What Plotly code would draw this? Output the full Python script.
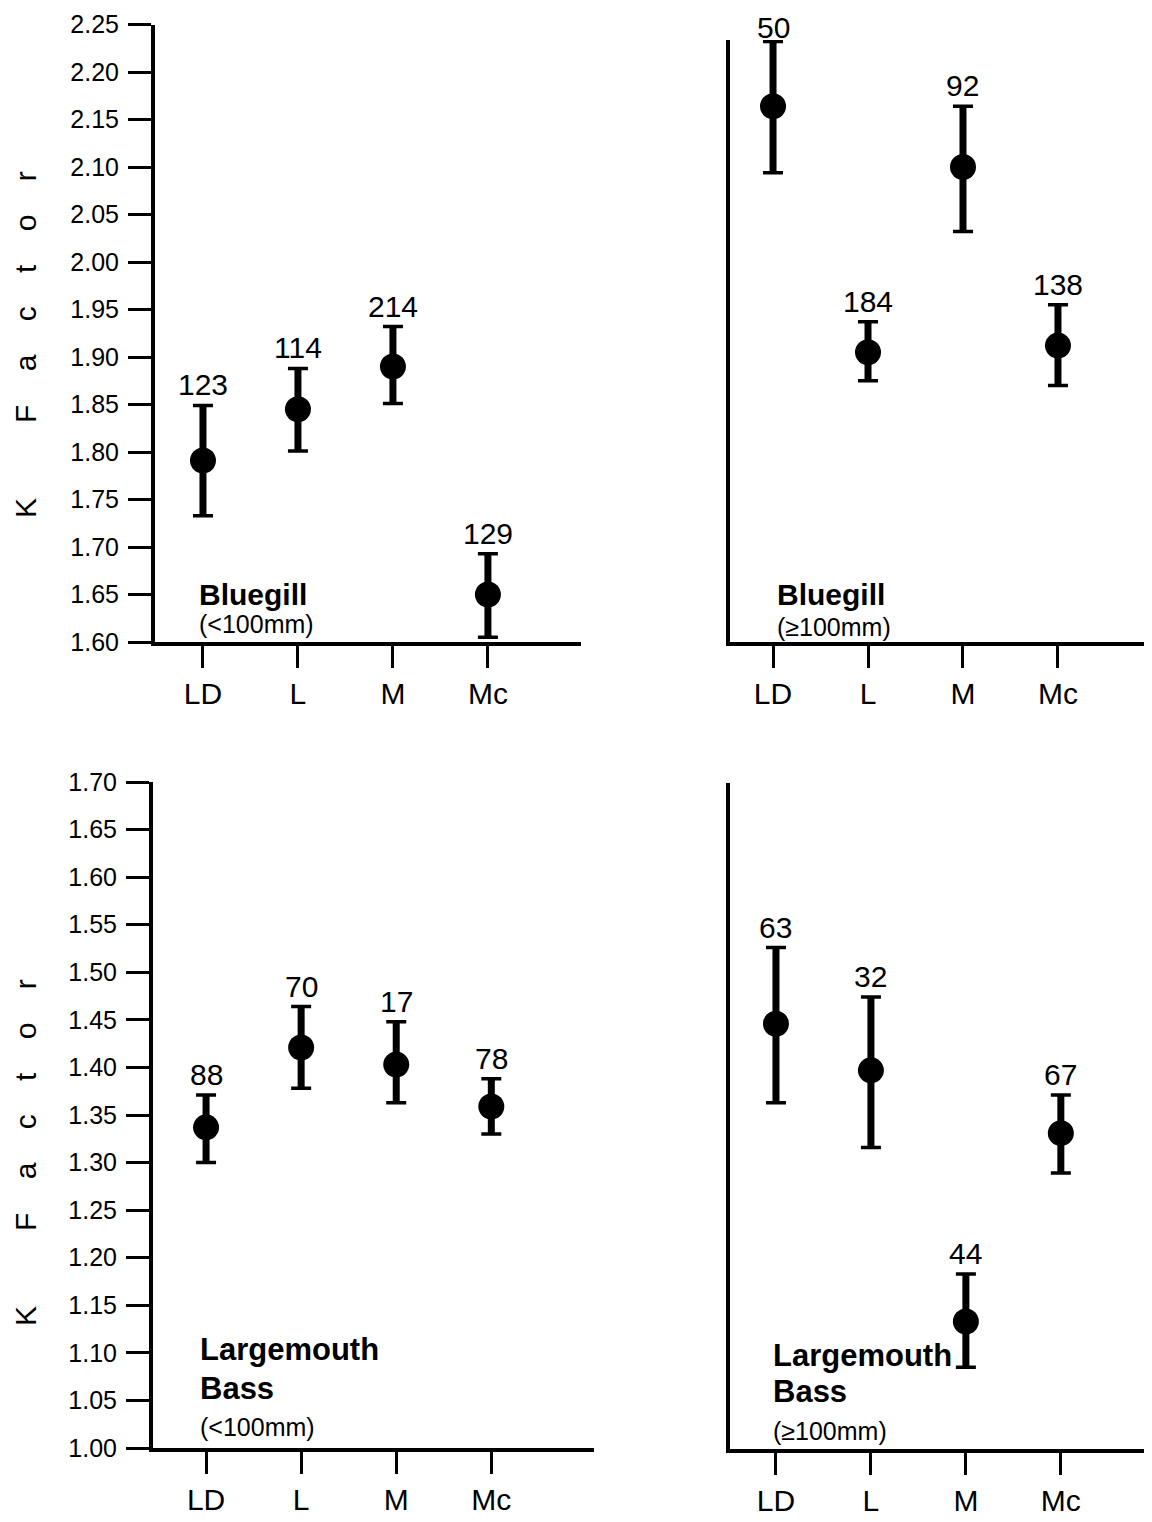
import plotly.graph_objects as go

# ---------------- data ----------------
categories = ["LD", "L", "M", "Mc"]

bg_small_mean = [1.791, 1.845, 1.890, 1.650]
bg_small_upper = [1.849, 1.888, 1.932, 1.693]
bg_small_lower = [1.733, 1.801, 1.851, 1.605]
bg_small_n = [123, 114, 214, 129]

bg_large_mean = [2.164, 1.905, 2.100, 1.912]
bg_large_upper = [2.232, 1.937, 2.164, 1.955]
bg_large_lower = [2.094, 1.875, 2.032, 1.870]
bg_large_n = [50, 184, 92, 138]

lmb_small_mean = [1.337, 1.421, 1.403, 1.359]
lmb_small_upper = [1.371, 1.464, 1.448, 1.388]
lmb_small_lower = [1.300, 1.378, 1.363, 1.330]
lmb_small_n = [88, 70, 17, 78]

lmb_large_mean = [1.447, 1.398, 1.134, 1.332]
lmb_large_upper = [1.527, 1.475, 1.184, 1.372]
lmb_large_lower = [1.364, 1.317, 1.086, 1.290]
lmb_large_n = [63, 32, 44, 67]

top_ticks = [1.60, 1.65, 1.70, 1.75, 1.80, 1.85, 1.90, 1.95, 2.00, 2.05, 2.10, 2.15, 2.20, 2.25]
bottom_ticks = [1.00, 1.05, 1.10, 1.15, 1.20, 1.25, 1.30, 1.35, 1.40, 1.45, 1.50, 1.55, 1.60, 1.65, 1.70]

# ---------------- layout helpers ----------------
# the page body has an 8px margin, so the figure is drawn 8px in from the corner
OFF = 8
W, H = 1152 - OFF, 1522 - OFF
FONT = "Liberation Sans"


def fx(px):
    return (px - OFF) / W


def fy(py):
    return 1 - (py - OFF) / H


panels = [
    # (mean, upper, lower, n, xdom px, xrange, ydom px (top,bottom), yrange, left-axis ticks)
    (bg_small_mean, bg_small_upper, bg_small_lower, bg_small_n,
     (155, 581), [-0.505, 3.98], (24.5, 642), [1.60, 2.25], top_ticks),
    (bg_large_mean, bg_large_upper, bg_large_lower, bg_large_n,
     (730, 1152), [-0.453, 3.99], (40, 642), [1.60, 2.2337], None),
    (lmb_small_mean, lmb_small_upper, lmb_small_lower, lmb_small_n,
     (153, 594), [-0.558, 4.08], (782, 1448), [1.00, 1.70], bottom_ticks),
    (lmb_large_mean, lmb_large_upper, lmb_large_lower, lmb_large_n,
     (730, 1152), [-0.484, 3.96], (783, 1449), [1.00, 1.70], None),
]

fig = go.Figure()
layout = dict(
    template="none",
    width=W, height=H,
    margin=dict(l=0, r=0, t=0, b=0, pad=0),
    paper_bgcolor="white", plot_bgcolor="white",
    showlegend=False,
    font=dict(family=FONT, color="black"),
)
annotations = []

for i, (mean, up, lo, ns, xd, xr, yd, yr, ticks) in enumerate(panels, start=1):
    xa = "x" if i == 1 else f"x{i}"
    ya = "y" if i == 1 else f"y{i}"
    plus = [u - m for u, m in zip(up, mean)]
    minus = [m - l for m, l in zip(mean, lo)]
    # caps (thin)
    fig.add_trace(go.Scatter(
        x=categories, y=mean, mode="markers", xaxis=xa, yaxis=ya,
        marker=dict(size=1, color="rgba(0,0,0,0)"),
        error_y=dict(type="data", array=plus, arrayminus=minus,
                     thickness=3.5, width=10, color="black"),
        hoverinfo="skip"))
    # stems + markers
    fig.add_trace(go.Scatter(
        x=categories, y=mean, mode="markers", xaxis=xa, yaxis=ya,
        marker=dict(size=26, color="black"),
        error_y=dict(type="data", array=plus, arrayminus=minus,
                     thickness=7, width=0, color="black")))
    for c, u, n in zip(categories, up, ns):
        # keep labels that sit right at the top of the page fully inside it
        ys = 2 if u < yr[1] - 0.005 else -4
        annotations.append(dict(
            x=c, y=u, xref=xa, yref=ya, text=str(n), showarrow=False,
            yanchor="bottom", yshift=ys, font=dict(size=30, family=FONT, color="black")))

    xkey = "xaxis" if i == 1 else f"xaxis{i}"
    ykey = "yaxis" if i == 1 else f"yaxis{i}"
    layout[xkey] = dict(
        domain=[fx(xd[0]), min(1.0, fx(xd[1]))], anchor=ya, type="category",
        range=xr, showline=True, linewidth=4, linecolor="black",
        ticks="outside", ticklen=22, tickwidth=3, tickcolor="black",
        ticklabelstandoff=0, automargin=False,
        tickfont=dict(size=30, family=FONT, color="black"),
        showgrid=False, zeroline=False, fixedrange=True)
    ydict = dict(
        domain=[fy(yd[1]), fy(yd[0])], anchor=xa, range=yr,
        showline=True, linewidth=4, linecolor="black", automargin=False,
        showgrid=False, zeroline=False, fixedrange=True)
    if ticks is not None:
        ydict.update(
            tickmode="array", tickvals=ticks, ticktext=[f"{t:.2f}" for t in ticks],
            ticks="outside", ticklen=23, tickwidth=3, tickcolor="black",
            ticklabelstandoff=4,
            tickfont=dict(size=25, family=FONT, color="black"))
    else:
        ydict.update(showticklabels=False, ticks="")
    layout[ykey] = ydict

# y-axis titles (letter-spaced)
NB = "\u00a0"
ktitle = "K" + NB * 9 + "F" + NB * 4 + "a" + NB * 4 + "c" + NB * 4 + "t" + NB * 4 + "o" + NB * 4 + "r"
for cy in (345, 1153):
    annotations.append(dict(
        x=fx(25), y=fy(cy), xref="paper", yref="paper", text=ktitle,
        textangle=-90, showarrow=False, xanchor="center", yanchor="middle",
        font=dict(size=30, family=FONT, color="black")))

# species labels
species = [
    (197, [(594, "<b>Bluegill</b>", 30), (624, "(<100mm)", 25)]),
    (775, [(594, "<b>Bluegill</b>", 30), (627, "(\u2265100mm)", 25)]),
    (198, [(1349, "<b>Largemouth</b>", 31), (1388, "<b>Bass</b>", 31), (1427, "(<100mm)", 25)]),
    (771, [(1355, "<b>Largemouth</b>", 31), (1391, "<b>Bass</b>", 31), (1431, "(\u2265100mm)", 25)]),
]
for lx, lines in species:
    for ly, txt, sz in lines:
        annotations.append(dict(
            x=fx(lx), y=fy(ly), xref="paper", yref="paper", text=txt,
            showarrow=False, xanchor="left", yanchor="middle",
            font=dict(size=sz, family=FONT, color="black")))

layout["annotations"] = annotations
fig.update_layout(**layout)
fig.write_html("out.html")
